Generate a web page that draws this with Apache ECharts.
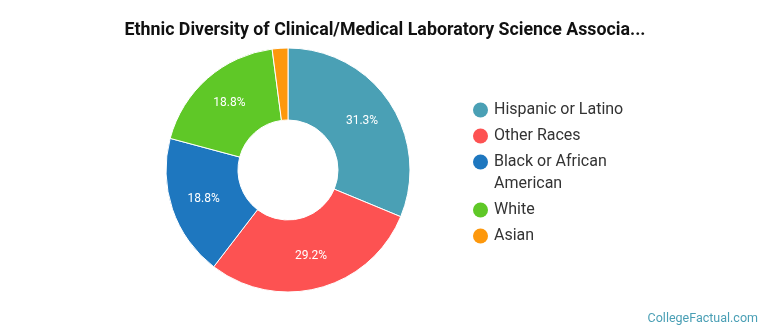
<!DOCTYPE html>
<html>
<head>
<meta charset="utf-8">
<script src="https://cdn.jsdelivr.net/npm/echarts@6/dist/echarts.min.js"></script>
<style>html,body{margin:0;padding:0;background:#fff}#c{width:770px;height:335px}</style>
</head>
<body>
<div id="c"></div>
<script>
const categories = ['Hispanic or Latino', 'Other Races', 'Black or African American', 'White', 'Asian'];
const legendLabels = ['Hispanic or Latino', 'Other Races', 'Black or African\nAmerican', 'White', 'Asian'];
const values = [31.25, 29.17, 18.75, 18.75, 2.08];
const colors = ['#4aa0b5', '#fd5252', '#1e77bf', '#5fc827', '#fd980c'];
const titleText = 'Ethnic Diversity of Clinical/Medical Laboratory Science Associa...';
const footerText = 'CollegeFactual.com';

const rich = {
  t: { fontFamily: 'Roboto', fontSize: 16, color: '#333', lineHeight: 22, padding: [0, 0, 0, 6] },
  i: { width: 15, height: 15, lineHeight: 22 }
};
colors.forEach((c, k) => {
  rich['d' + k] = { width: 15, height: 15, borderRadius: 7.5, backgroundColor: c, lineHeight: 22 };
});

const chart = echarts.init(document.getElementById('c'), null, { renderer: 'canvas' });
chart.setOption({
  animation: false,
  color: colors,
  title: [
    { text: titleText, left: 'center', top: 17,
      textStyle: { fontFamily: 'Roboto', fontSize: 17.8, fontWeight: 'bold', color: '#111' } },
    { text: footerText, right: 7, bottom: 5,
      textStyle: { fontFamily: 'Roboto', fontSize: 12.5, fontWeight: 'normal', color: '#4a9fb5' } }
  ],
  legend: {
    orient: 'vertical',
    left: 462,
    top: 97,
    icon: 'circle',
    itemWidth: 0,
    itemHeight: 0,
    itemGap: 10,
    data: categories,
    formatter: function (name) {
      const k = categories.indexOf(name);
      const lines = legendLabels[k].split('\n');
      return lines.map((ln, j) => (j === 0 ? '{d' + k + '|}' : '{i|}') + '{t|' + ln + '}').join('\n');
    },
    textStyle: { rich: rich }
  },
  series: [{
    type: 'pie',
    center: [288, 170],
    radius: [50, 122],
    startAngle: 90,
    clockwise: true,
    avoidLabelOverlap: false,
    itemStyle: { borderColor: '#fff', borderWidth: 1 },
    label: {
      show: true,
      position: 'inside',
      fontFamily: 'Roboto',
      fontSize: 12,
      color: '#fff',
      formatter: function (p) { return p.value < 5 ? '' : p.value.toFixed(1) + '%'; }
    },
    labelLine: { show: false },
    emphasis: { disabled: true },
    data: categories.map((n, k) => ({ name: n, value: values[k] }))
  }]
});
</script>
</body>
</html>
